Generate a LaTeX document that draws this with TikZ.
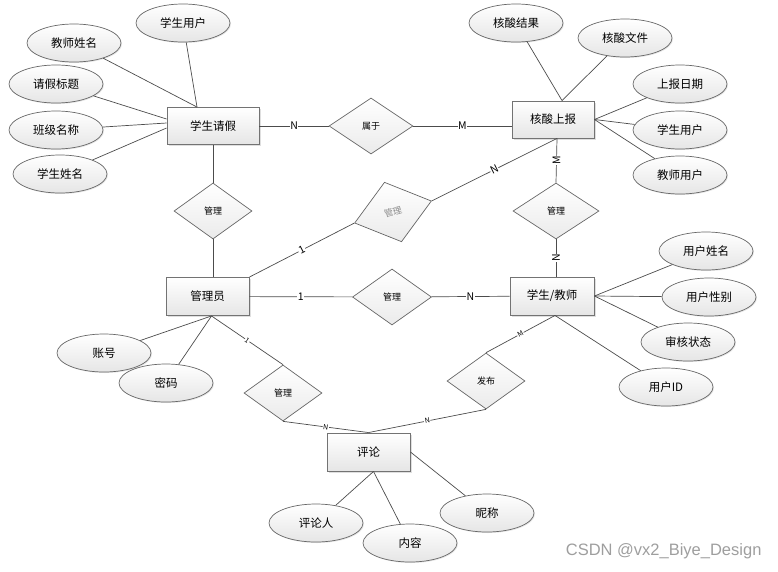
\documentclass[tikz,border=0pt]{standalone}
\usepackage{fontspec}
\setmainfont{Noto Sans CJK SC}
\newfontfamily\marcafont{Liberation Sans}
\usepackage{tikz}
\usetikzlibrary{shapes.geometric, shadows, positioning}

\begin{document}
\begin{tikzpicture}[x=1pt, y=-1pt,
    entidad/.style={rectangle, draw=black!55, line width=0.9pt, top color=white, bottom color=black!10, minimum width=83pt, minimum height=38pt, font=\fontsize{11.5}{13}\selectfont, drop shadow={shadow xshift=1.5pt, shadow yshift=-1.5pt, opacity=0.25}},
    atributo/.style={ellipse, draw=black!60, line width=0.7pt, top color=white, bottom color=black!10, minimum width=94pt, minimum height=38pt, inner sep=0pt, font=\fontsize{11.5}{13}\selectfont, drop shadow={shadow xshift=1pt, shadow yshift=-1pt, opacity=0.2}},
    relacion/.style={diamond, draw=black!60, line width=0.7pt, top color=white, bottom color=black!8, minimum width=78pt, minimum height=56pt, inner sep=0pt, font=\fontsize{9}{10}\selectfont},
    linea/.style={draw=black!70, line width=0.7pt},
    card/.style={fill=white, inner sep=0.6pt, font=\fontsize{10.5}{11}\selectfont},
    cardp/.style={card, font=\fontsize{7}{8}\selectfont}]

    \useasboundingbox (0,0) rectangle (778,571);

    % entidades
    \node[entidad, minimum width=92pt, minimum height=37pt] (qj) at (213,126) {学生请假};
    \node[entidad, minimum width=82pt, minimum height=37pt] (hs) at (553,119.5) {核酸上报};
    \node[entidad] (gl) at (207.5,296.5) {管理员};
    \node[entidad, minimum width=84pt] (st) at (552,296) {学生/教师};
    \node[entidad] (pl) at (368.5,452) {评论};

    \coordinate (qjA) at ([xshift=-16pt]qj.north);
    \coordinate (hsA) at ([xshift=9pt]hs.north);
    \coordinate (hsS) at ([xshift=4pt]hs.south);
    \coordinate (glS) at ([xshift=4pt]gl.south);
    \coordinate (stB) at ([xshift=3pt]st.south);
    \coordinate (plB) at ([xshift=5pt]pl.south);

    % atributos
    \node[atributo] (qjU) at (183,23) {学生用户};
    \node[atributo] (qjT) at (74,43) {教师姓名};
    \node[atributo] (qjB) at (56,84) {请假标题};
    \node[atributo] (qjC) at (56,130) {班级名称};
    \node[atributo] (qjN) at (60,174) {学生姓名};
    \node[atributo] (hsR) at (516,23) {核酸结果};
    \node[atributo] (hsF) at (625,38) {核酸文件};
    \node[atributo] (hsD) at (680,84) {上报日期};
    \node[atributo] (hsU) at (680,130) {学生用户};
    \node[atributo] (hsT) at (680,175) {教师用户};
    \node[atributo] (stN) at (706,251) {用户姓名};
    \node[atributo] (stS) at (709,297) {用户性别};
    \node[atributo] (stA) at (688,342) {审核状态};
    \node[atributo] (stI) at (666,387) {用户ID};
    \node[atributo] (glZ) at (104,353) {账号};
    \node[atributo] (glM) at (166,383) {密码};
    \node[atributo] (plR) at (316,523) {评论人};
    \node[atributo] (plC) at (410,543) {内容};
    \node[atributo] (plN) at (487,513) {昵称};

    % relaciones
    \node[relacion, minimum width=84pt] (sy) at (371,126) {属于};
    \node[relacion] (glA) at (213,211) {管理};
    \node[relacion, rotate=16, minimum width=80pt, minimum height=62pt, text=black!45] (glB) at (393,212) {管理};
    \node[relacion, minimum width=86pt] (glC) at (556,211) {管理};
    \node[relacion, minimum width=79pt] (glD) at (392,297) {管理};
    \node[relacion] (glE) at (283,393) {管理};
    \node[relacion] (fb) at (486,381) {发布};

    % lineas de atributos
    \draw[linea] (qjU) -- (qjA);
    \draw[linea] (qjT) -- (qjA);
    \draw[linea] (qjB) -- ([yshift=7pt]qj.west);
    \draw[linea] (qjC) -- ([yshift=3pt]qj.west);
    \draw[linea] (qjN) -- ([yshift=-2pt]qj.west);
    \draw[linea] (hsR) -- (hsA);
    \draw[linea] (hsF) -- (hsA);
    \draw[linea] (hsD) -- (hs.east);
    \draw[linea] (hsU) -- (hs.east);
    \draw[linea] (hsT) -- (hs.east);
    \draw[linea] (stN) -- (st.east);
    \draw[linea] (stS) -- (st.east);
    \draw[linea] (stA) -- (st.east);
    \draw[linea] (stI) -- (stB);
    \draw[linea] (glZ) -- (glS);
    \draw[linea] (glM) -- (glS);
    \draw[linea] (plR) -- (plB);
    \draw[linea] (plC) -- (plB);
    \draw[linea] (plN) -- (pl.east);

    % lineas de relaciones
    \draw[linea] (qj) -- node[card] {N} (sy);
    \draw[linea] (sy.east) -- node[card] {M} (sy.east -| hs.west);
    \draw[linea] (qj) -- (glA);
    \draw[linea] (glA) -- (glA.south |- gl.north);
    \draw[linea] (gl.north east) -- node[card, sloped] {1} (glB.west);
    \draw[linea] (glB.east) -- node[card, sloped] {N} (hsS);
    \draw[linea] (hsS) -- node[card, rotate=90] {M} (glC.north);
    \draw[linea] (glC.south) -- node[card, rotate=90] {N} (glC.south |- st.north);
    \draw[linea] (gl) -- node[card] {1} (glD);
    \draw[linea] (glD) -- node[card] {N} (st);
    \draw[linea] (glS) -- node[cardp, sloped] {1} (glE.north);
    \draw[linea] (glE.south) -- node[cardp, sloped] {N} (pl.north);
    \draw[linea] (stB) -- node[cardp, sloped] {M} (fb.north);
    \draw[linea] (fb.south) -- node[cardp, sloped] {N} (pl.north);

    \node[font=\marcafont\fontsize{16.5}{18}\selectfont, text=black!38, anchor=east] (marca) at (765,551) {CSDN @vx2\_Biye\_Design};
\end{tikzpicture}
\end{document}
